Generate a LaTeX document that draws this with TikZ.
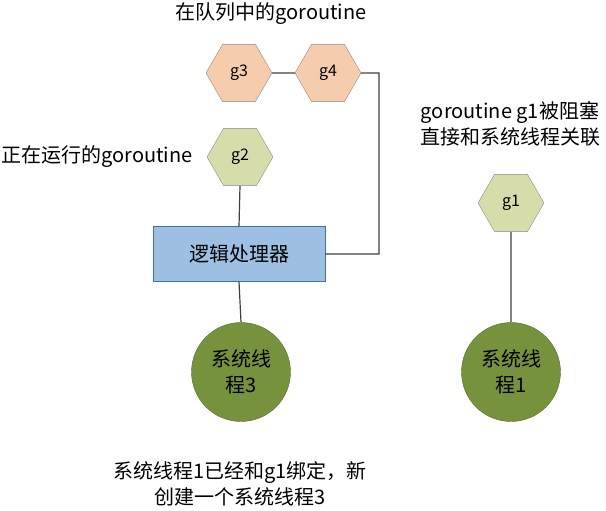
\documentclass[tikz,border=0pt]{standalone}
\usepackage{fontspec}
\usepackage{tikz}
\usepackage{xcolor}
\usetikzlibrary{shapes.geometric}
\setmainfont{Noto Sans CJK SC}
\definecolor{queuefill}{RGB}{246,205,172}
\definecolor{runfill}{RGB}{215,221,170}
\definecolor{hexline}{RGB}{140,140,140}
\definecolor{procfill}{RGB}{157,192,226}
\definecolor{procline}{RGB}{65,113,156}
\definecolor{threadfill}{RGB}{118,146,60}
\definecolor{threadline}{RGB}{88,112,44}
\definecolor{linkline}{RGB}{64,64,64}
\tikzset{
    g-hex/.style = {regular polygon, regular polygon sides=6, minimum size=66pt, inner sep=0pt, draw=hexline, thin, font=\fontsize{16}{19}\selectfont},
    queued-g/.style = {g-hex, fill=queuefill},
    running-g/.style = {g-hex, fill=runfill},
    proc-box/.style = {draw=procline, fill=procfill, thin, rectangle, minimum width=172pt, minimum height=55pt, font=\fontsize{20}{24}\selectfont},
    thread-node/.style = {circle, draw=threadline, fill=threadfill, thin, minimum size=99pt, inner sep=0pt, align=center, font=\fontsize{20}{26}\selectfont},
    note-text/.style = {align=center, font=\fontsize{20}{26}\selectfont},
    link/.style = {draw=linkline, line width=1.2pt},
}

\begin{document}
\begin{tikzpicture}[x=1pt, y=-1pt]
\useasboundingbox (0,0) rectangle (606,511);
% goroutines waiting in the queue
\node[queued-g] (g3) at (239,73) {g3};
\node[queued-g] (g4) at (328,73) {g4};
\node[note-text] (queue-label) at (271,14) {在队列中的goroutine};
% running goroutine and logical processor
\node[running-g] (g2) at (240,157) {g2};
\node[note-text] (run-label) at (97,157) {正在运行的goroutine};
\node[proc-box] (proc) at (239,254) {逻辑处理器};
\node[thread-node] (t3) at (241,372) {系统线\\程3};
% blocked goroutine on its own thread
\node[running-g] (g1) at (511,203) {g1};
\node[note-text] (block-label) at (510,124) {goroutine g1被阻塞\\直接和系统线程关联};
\node[thread-node] (t1) at (511,372) {系统线\\程1};
\node[note-text] (bottom-label) at (240,484) {系统线程1已经和g1绑定，新\\创建一个系统线程3};
% connectors
\coordinate (turn) at (379,73);
\draw[link] (g3.east) -- (g4.west);
\draw[link] (g4.east) -- (turn) |- (proc.east);
\draw[link] (g2.south) -- (proc.north);
\draw[link] (proc.south) -- (t3.north);
\draw[link] (g1.south) -- (t1.north);
\end{tikzpicture}
\end{document}
